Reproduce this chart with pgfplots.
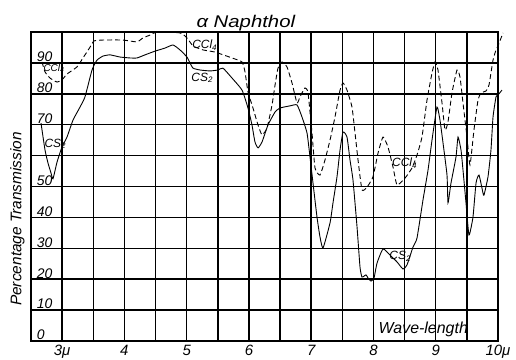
\documentclass[border=0pt]{standalone}
\usepackage{pgfplots}
\pgfplotsset{compat=1.18}
\usepackage{pgfplotstable}
\usepackage{fontspec}
\setmainfont{Liberation Sans}
\usepackage{graphicx}

\pgfplotstableread{
x y
2.661 70.5
2.725 61.8
2.773 57.6
2.821 54.4
2.853 52.5
2.918 57.9
2.998 62.8
3.078 66.0
3.175 71.5
3.287 75.7
3.367 79.0
3.480 87.7
3.560 90.9
3.656 92.2
3.769 92.6
3.929 91.9
4.090 91.6
4.202 91.6
4.331 92.6
4.491 93.8
4.652 94.8
4.780 95.8
4.893 94.2
5.005 91.9
5.054 90.0
5.102 88.3
5.214 87.7
5.375 87.4
5.503 87.7
5.583 88.3
5.728 85.1
5.889 81.2
5.985 75.4
6.049 69.9
6.097 64.4
6.146 62.5
6.210 64.4
6.306 69.9
6.419 74.1
6.499 75.4
6.660 76.1
6.772 76.4
6.852 72.5
6.933 67.3
6.981 59.5
7.029 51.1
7.093 40.1
7.141 33.7
7.190 30.1
7.302 38.2
7.350 44.7
7.414 53.1
7.463 61.8
7.511 67.6
7.575 66.0
7.623 58.6
7.671 52.1
7.736 36.9
7.784 23.9
7.816 20.7
7.880 21.4
7.912 20.4
7.960 19.4
8.009 20.4
8.057 25.2
8.153 29.8
8.266 27.8
8.378 25.6
8.474 23.3
8.538 24.6
8.635 30.4
8.699 33.3
8.795 45.6
8.876 55.3
8.940 65.0
9.020 75.7
9.068 71.5
9.117 64.1
9.181 53.7
9.197 44.7
9.245 51.1
9.325 59.5
9.358 66.0
9.406 61.8
9.438 55.3
9.486 44.7
9.534 34.3
9.598 40.1
9.647 51.1
9.695 53.7
9.759 47.9
9.775 47.2
9.839 53.1
9.887 61.8
9.920 72.5
9.968 79.0
10.000 79.6
10.064 81.2
}\csdata

\pgfplotstableread{
x y
2.677 90.3
2.725 87.1
2.805 85.1
2.918 83.8
2.998 84.5
3.078 86.4
3.239 88.7
3.335 91.6
3.448 95.1
3.512 97.1
3.656 97.4
3.977 97.4
4.202 96.8
4.299 98.1
4.411 99.0
4.524 100.0
4.893 99.7
5.005 98.1
5.102 95.5
5.262 94.2
5.455 93.5
5.728 91.6
5.889 90.3
5.937 87.1
5.985 80.6
6.065 75.4
6.146 69.9
6.210 66.7
6.290 68.9
6.371 76.4
6.419 82.8
6.467 88.3
6.531 90.3
6.611 88.7
6.692 83.5
6.772 77.0
6.820 79.0
6.900 81.9
6.949 80.3
7.013 67.3
7.061 56.0
7.141 53.7
7.222 58.6
7.302 65.0
7.382 72.5
7.463 81.2
7.511 83.5
7.575 81.2
7.655 75.7
7.704 67.3
7.752 58.6
7.816 48.9
7.896 49.8
7.992 53.1
8.073 60.8
8.153 66.0
8.233 62.8
8.314 56.3
8.378 50.5
8.506 52.7
8.619 56.0
8.699 60.2
8.779 66.0
8.860 78.0
8.940 86.7
8.988 90.3
9.036 87.7
9.101 77.0
9.149 68.3
9.197 70.9
9.261 80.3
9.342 87.7
9.390 85.4
9.438 77.0
9.502 66.0
9.550 57.0
9.614 68.3
9.679 78.0
9.727 80.3
9.807 80.9
9.855 82.8
9.920 90.9
9.968 94.2
10.000 95.5
10.080 99.7
}\ccldata

\begin{document}
\begin{tikzpicture}
\path[use as bounding box] (-31bp,-19bp) rectangle (485bp,341bp);
\begin{axis}[
  at={(0,0)}, anchor=south west,
  scale only axis, width=467bp, height=309bp,
  xmin=2.5, xmax=10, ymin=0, ymax=100,
  xtick={2.5,3,3.5,4,4.5,5,5.5,6,6.5,7,7.5,8,8.5,9,9.5,10},
  xticklabels={,3μ,,4,,5,,6,,7,,8,,9,,10μ},
  ytick={0,10,20,30,40,50,60,70,80,90,100},
  yticklabels={},
  grid=major,
  major grid style={black, line width=1.5bp},
  axis line style={black, line width=1.6bp},
  major tick length=0pt,
  xticklabel style={font=\fontsize{15}{15}\selectfont\itshape, inner sep=1bp, yshift=-3bp},
  clip=false,
]
\addplot[black, line width=0.9bp, smooth, tension=0.3] table[x=x,y=y] {\csdata};
\addplot[black, line width=0.9bp, dash pattern=on 5bp off 3bp, smooth, tension=0.3] table[x=x,y=y] {\ccldata};

\begin{scope}[every node/.style={anchor=south west, inner sep=0.8bp, font=\fontsize{14}{14}\selectfont\itshape}]
\node at (axis cs:2.58,0) {0};
\node at (axis cs:2.58,10) {10};
\node at (axis cs:2.58,20) {20};
\node at (axis cs:2.58,30) {30};
\node at (axis cs:2.58,40) {40};
\node at (axis cs:2.58,50) {50};
\node at (axis cs:2.58,70) {70};
\node at (axis cs:2.58,80) {80};
\node at (axis cs:2.58,90) {90};
\end{scope}

\node[anchor=base, inner sep=0pt, font=\fontsize{17}{17}\selectfont\itshape] at (axis cs:5.95,101.6) {\scalebox{1.2}[1]{α Naphthol}};
\node[rotate=90, inner sep=0pt, font=\fontsize{15.5}{15.5}\selectfont\itshape] at (axis cs:2.28,39.5) {Percentage Transmission};
\node[inner sep=0pt, font=\fontsize{16}{16}\selectfont\itshape] at (axis cs:8.80,3.6) {Wave-length};

\node[inner sep=0pt, font=\fontsize{12}{12}\selectfont\itshape] at (axis cs:5.29,95.8) {CCl\textsubscript{4}};
\node[inner sep=0pt, font=\fontsize{12}{12}\selectfont\itshape] at (axis cs:5.25,85.2) {CS\textsubscript{2}};
\node[inner sep=0pt, font=\fontsize{10}{10}\selectfont\itshape] at (axis cs:2.87,88.3) {CCl\textsubscript{4}};
\node[inner sep=0pt, font=\fontsize{12}{12}\selectfont\itshape] at (axis cs:2.89,63.8) {CS\textsubscript{2}};
\node[inner sep=0pt, font=\fontsize{12}{12}\selectfont\itshape] at (axis cs:8.50,57.6) {CCl\textsubscript{4}};
\node[inner sep=0pt, font=\fontsize{12}{12}\selectfont\itshape] at (axis cs:8.43,27.5) {CS\textsubscript{2}};
\end{axis}
\end{tikzpicture}
\end{document}
